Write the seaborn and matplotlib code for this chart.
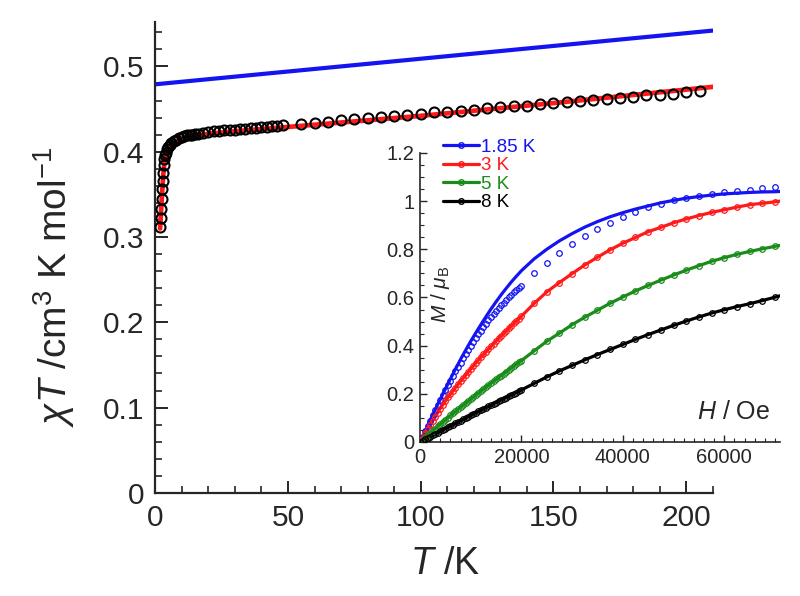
import numpy as np
import pandas as pd
import matplotlib
matplotlib.use("Agg")
import matplotlib.pyplot as plt
from matplotlib.ticker import MultipleLocator, FuncFormatter
from matplotlib.lines import Line2D
import seaborn as sns

# ---------------- main panel data ----------------
T_blue = [0, 50, 100, 150, 210]
chi_blue = [0.479, 0.494, 0.509, 0.524, 0.542]

T_exp = [1.85, 2.0, 2.2, 2.4, 2.6, 2.8, 3.0, 3.25, 3.5, 3.75, 4.0, 4.5, 5.0, 5.5, 6.0,
         7, 8, 9, 10, 11, 12, 13, 14, 15, 16, 18, 20, 22, 24, 26, 28, 30, 32, 34, 36,
         38, 40, 42, 44, 46, 48,
         55, 60, 65, 70, 75, 80, 85, 90, 95, 100, 105, 110, 115, 120, 125, 130, 135,
         140, 145, 150, 155, 160, 165, 170, 175, 180, 185, 190, 195, 200, 205]
chi_exp = [0.312, 0.322, 0.333, 0.345, 0.356, 0.366, 0.375, 0.384, 0.391, 0.396, 0.399,
           0.403, 0.406, 0.408, 0.410, 0.412, 0.414, 0.416, 0.417, 0.418, 0.419, 0.420,
           0.420, 0.421, 0.421, 0.422, 0.423, 0.424, 0.424, 0.425, 0.426, 0.426, 0.427,
           0.427, 0.428, 0.428, 0.429, 0.429, 0.430, 0.430, 0.431,
           0.433, 0.434, 0.435, 0.437, 0.438, 0.439, 0.441, 0.442, 0.443, 0.444, 0.446,
           0.447, 0.448, 0.449, 0.451, 0.452, 0.453, 0.454, 0.456, 0.457, 0.458, 0.459,
           0.461, 0.462, 0.463, 0.464, 0.466, 0.467, 0.468, 0.470, 0.471]

T_fit = [1.85, 2.2, 2.6, 3.0, 3.5, 4.0, 5.0, 6.0, 8.0, 10, 13, 16, 20, 30, 50, 100, 150, 210]
chi_fit = [0.310, 0.330, 0.352, 0.372, 0.388, 0.396, 0.404, 0.408, 0.412, 0.415, 0.418,
           0.419, 0.421, 0.424, 0.429, 0.442, 0.457, 0.476]

# ---------------- inset data ----------------
H_fit = [0, 1000, 2000, 3000, 4000, 5000, 6000, 7000, 8000, 9000, 10000, 11000, 12000,
         13000, 14000, 15000, 16000, 17000, 18000, 19000, 20000, 22500, 25000, 27500,
         30000, 32500, 35000, 37500, 40000, 42500, 45000, 47500, 50000, 52500, 55000,
         57500, 60000, 62500, 65000, 67500, 70000, 71000]
M_fit_185 = [0, 0.045, 0.090, 0.134, 0.177, 0.220, 0.262, 0.303, 0.343, 0.381, 0.418,
             0.453, 0.487, 0.520, 0.552, 0.582, 0.611, 0.638, 0.664, 0.688, 0.711, 0.760,
             0.800, 0.835, 0.865, 0.892, 0.915, 0.935, 0.952, 0.967, 0.980, 0.993, 1.003,
             1.012, 1.019, 1.025, 1.030, 1.033, 1.036, 1.038, 1.039, 1.040]
M_fit_3 = [0, 0.036, 0.071, 0.105, 0.139, 0.170, 0.199, 0.226, 0.252, 0.278, 0.303,
           0.328, 0.352, 0.375, 0.397, 0.419, 0.440, 0.461, 0.482, 0.502, 0.522, 0.575,
           0.623, 0.662, 0.699, 0.735, 0.767, 0.798, 0.825, 0.849, 0.873, 0.891, 0.910,
           0.926, 0.940, 0.953, 0.964, 0.975, 0.985, 0.991, 0.997, 1.000]
M_fit_5 = [0, 0.019, 0.038, 0.056, 0.074, 0.092, 0.110, 0.127, 0.144, 0.161, 0.178,
           0.195, 0.212, 0.228, 0.244, 0.260, 0.276, 0.292, 0.308, 0.323, 0.338, 0.378,
           0.418, 0.452, 0.487, 0.518, 0.547, 0.576, 0.602, 0.627, 0.650, 0.672, 0.693,
           0.713, 0.732, 0.750, 0.765, 0.779, 0.791, 0.802, 0.812, 0.816]
M_fit_8 = [0, 0.011, 0.022, 0.033, 0.044, 0.055, 0.066, 0.077, 0.088, 0.099, 0.110,
           0.121, 0.132, 0.142, 0.153, 0.163, 0.174, 0.184, 0.195, 0.205, 0.216, 0.243,
           0.270, 0.295, 0.318, 0.341, 0.363, 0.384, 0.405, 0.426, 0.446, 0.465, 0.484,
           0.502, 0.519, 0.535, 0.549, 0.562, 0.574, 0.587, 0.601, 0.607]

H_dat = [0, 500, 1000, 1500, 2000, 2500, 3000, 3500, 4000, 4500, 5000, 5500, 6000, 6500,
         7000, 7500, 8000, 8500, 9000, 9500, 10000, 10500, 11000, 11500, 12000, 12500,
         13000, 13500, 14000, 14500, 15000, 15500, 16000, 16500, 17000, 17500, 18000,
         18500, 19000, 19500, 20000, 22500, 25000, 27500, 30000, 32500, 35000, 37500,
         40000, 42500, 45000, 47500, 50000, 52500, 55000, 57500, 60000, 62500, 65000,
         67500, 70000]
M_dat_185 = [0, 0.022, 0.044, 0.067, 0.089, 0.110, 0.132, 0.153, 0.174, 0.195, 0.215,
             0.235, 0.255, 0.274, 0.293, 0.312, 0.330, 0.348, 0.366, 0.383, 0.400, 0.416,
             0.432, 0.447, 0.462, 0.477, 0.491, 0.505, 0.518, 0.531, 0.544, 0.556, 0.568,
             0.579, 0.590, 0.601, 0.611, 0.621, 0.630, 0.639, 0.648, 0.700, 0.745, 0.785,
             0.822, 0.856, 0.885, 0.910, 0.935, 0.955, 0.975, 0.990, 1.003, 1.013, 1.022,
             1.030, 1.037, 1.043, 1.048, 1.053, 1.057]
M_dat_3 = [0, 0.018, 0.036, 0.054, 0.071, 0.088, 0.105, 0.122, 0.139, 0.155, 0.170,
           0.185, 0.199, 0.213, 0.226, 0.239, 0.252, 0.265, 0.278, 0.291, 0.303, 0.316,
           0.328, 0.340, 0.352, 0.364, 0.375, 0.386, 0.397, 0.408, 0.419, 0.430, 0.440,
           0.451, 0.461, 0.472, 0.482, 0.492, 0.502, 0.512, 0.522, 0.575, 0.623, 0.662,
           0.699, 0.735, 0.767, 0.798, 0.825, 0.849, 0.873, 0.891, 0.910, 0.926, 0.940,
           0.953, 0.964, 0.975, 0.985, 0.991, 0.997]
M_dat_5 = [0, 0.010, 0.019, 0.029, 0.038, 0.047, 0.056, 0.065, 0.074, 0.083, 0.092,
           0.101, 0.110, 0.119, 0.127, 0.136, 0.144, 0.153, 0.161, 0.170, 0.178, 0.187,
           0.195, 0.204, 0.212, 0.220, 0.228, 0.236, 0.244, 0.252, 0.260, 0.268, 0.276,
           0.284, 0.292, 0.300, 0.308, 0.316, 0.323, 0.331, 0.338, 0.378, 0.418, 0.452,
           0.487, 0.518, 0.547, 0.576, 0.602, 0.627, 0.650, 0.672, 0.693, 0.713, 0.732,
           0.750, 0.765, 0.779, 0.791, 0.802, 0.812]
M_dat_8 = [0, 0.006, 0.011, 0.017, 0.022, 0.028, 0.033, 0.039, 0.044, 0.050, 0.055,
           0.061, 0.066, 0.072, 0.077, 0.083, 0.088, 0.094, 0.099, 0.105, 0.110, 0.116,
           0.121, 0.127, 0.132, 0.137, 0.142, 0.148, 0.153, 0.158, 0.163, 0.169, 0.174,
           0.179, 0.184, 0.190, 0.195, 0.200, 0.205, 0.211, 0.216, 0.243, 0.270, 0.295,
           0.318, 0.341, 0.363, 0.384, 0.405, 0.426, 0.446, 0.465, 0.484, 0.502, 0.519,
           0.535, 0.549, 0.562, 0.574, 0.587, 0.601]

labels = ["1.85 K", "3 K", "5 K", "8 K"]
colors = ["#1414f0", "#ff1a1a", "#1a8c1a", "#000000"]

# ---------------- style ----------------
sns.set_style("ticks")
plt.rcParams["font.family"] = ["Liberation Sans", "DejaVu Sans"]
plt.rcParams["mathtext.fontset"] = "custom"
plt.rcParams["mathtext.rm"] = "Liberation Sans"
plt.rcParams["mathtext.it"] = "Liberation Sans:italic"

fig = plt.figure(figsize=(8.0, 5.96), dpi=100)
ax = fig.add_axes([0.194, 0.173, 0.697, 0.790])

sns.lineplot(x=T_blue, y=chi_blue, ax=ax, color=colors[0], lw=3.0, zorder=2)
sns.lineplot(x=T_fit, y=chi_fit, ax=ax, color=colors[1], lw=3.4, zorder=2)
sns.lineplot(x=T_exp, y=chi_exp, ax=ax, color="black", marker="o", ls="none",
             markersize=7.2, markerfacecolor="none", markeredgecolor="black",
             markeredgewidth=1.5, zorder=3)

ax.set_xlim(0, 210)
ax.set_ylim(0, 0.552)
ax.xaxis.set_major_locator(MultipleLocator(50))
ax.xaxis.set_minor_locator(MultipleLocator(10))
ax.yaxis.set_major_locator(MultipleLocator(0.1))
ax.yaxis.set_minor_locator(MultipleLocator(0.02))
fmt = FuncFormatter(lambda v, p: f"{v:g}")
ax.yaxis.set_major_formatter(fmt)
ax.tick_params(which="major", direction="in", length=9, width=1.4, labelsize=21.5, pad=8)
ax.tick_params(which="minor", direction="in", length=5, width=1.2)
for s in ["top", "right"]:
    ax.spines[s].set_visible(False)
for s in ["left", "bottom"]:
    ax.spines[s].set_linewidth(1.6)

ax.set_xlabel("$T$ /K", fontsize=27)
ax.set_ylabel(r"$\chi T$ /cm$^3$ K mol$^{-1}$", fontsize=28)
ax.xaxis.set_label_coords(0.52, -0.112)
ax.yaxis.set_label_coords(-0.14, 0.437)

# ---------------- inset ----------------
ins = fig.add_axes([0.525, 0.2584, 0.45, 0.485])
ins.patch.set_alpha(0)
fits = [M_fit_185, M_fit_3, M_fit_5, M_fit_8]
dats = [M_dat_185, M_dat_3, M_dat_5, M_dat_8]
for lab, c, mf, md in zip(labels, colors, fits, dats):
    sns.lineplot(x=H_fit, y=mf, ax=ins, color=c, lw=2.3, zorder=2)
    sns.lineplot(x=H_dat, y=md, ax=ins, color=c, marker="o", ls="none", markersize=4.0,
                 markerfacecolor="none", markeredgecolor=c, markeredgewidth=0.9, zorder=3)

ins.set_xlim(0, 71000)
ins.set_ylim(0, 1.2)
ins.xaxis.set_major_locator(MultipleLocator(20000))
ins.xaxis.set_minor_locator(MultipleLocator(2000))
ins.yaxis.set_major_locator(MultipleLocator(0.2))
ins.yaxis.set_minor_locator(MultipleLocator(0.05))
ins.yaxis.set_major_formatter(fmt)
ins.tick_params(which="major", direction="in", length=5, width=1.0, labelsize=14.5, pad=4)
ins.tick_params(which="minor", direction="in", length=3, width=0.8)
for s in ["top", "right"]:
    ins.spines[s].set_visible(False)
for s in ["left", "bottom"]:
    ins.spines[s].set_linewidth(1.2)
ins.set_xlabel("")
ins.set_ylabel("")

ins.text(0.058, 0.51, r"$M$ / $\mu_{\rm B}$", transform=ins.transAxes, rotation=90,
         ha="center", va="center", fontsize=15)
ins.text(0.87, 0.104, "$H$ / Oe", transform=ins.transAxes, ha="center", va="center",
         fontsize=18)

handles = [Line2D([0], [0], color=c, lw=2.3, marker="o", markersize=4.0,
                  markerfacecolor="none", markeredgecolor=c) for c in colors]
leg = ins.legend(handles, labels, loc="upper left", bbox_to_anchor=(0.064, 1.05),
                 frameon=False, fontsize=13.5, handlelength=1.9, handletextpad=0.12,
                 labelspacing=0.08, borderaxespad=0, borderpad=0)
for t, c in zip(leg.get_texts(), colors):
    t.set_color(c)

fig.savefig("out.png", dpi=100)
